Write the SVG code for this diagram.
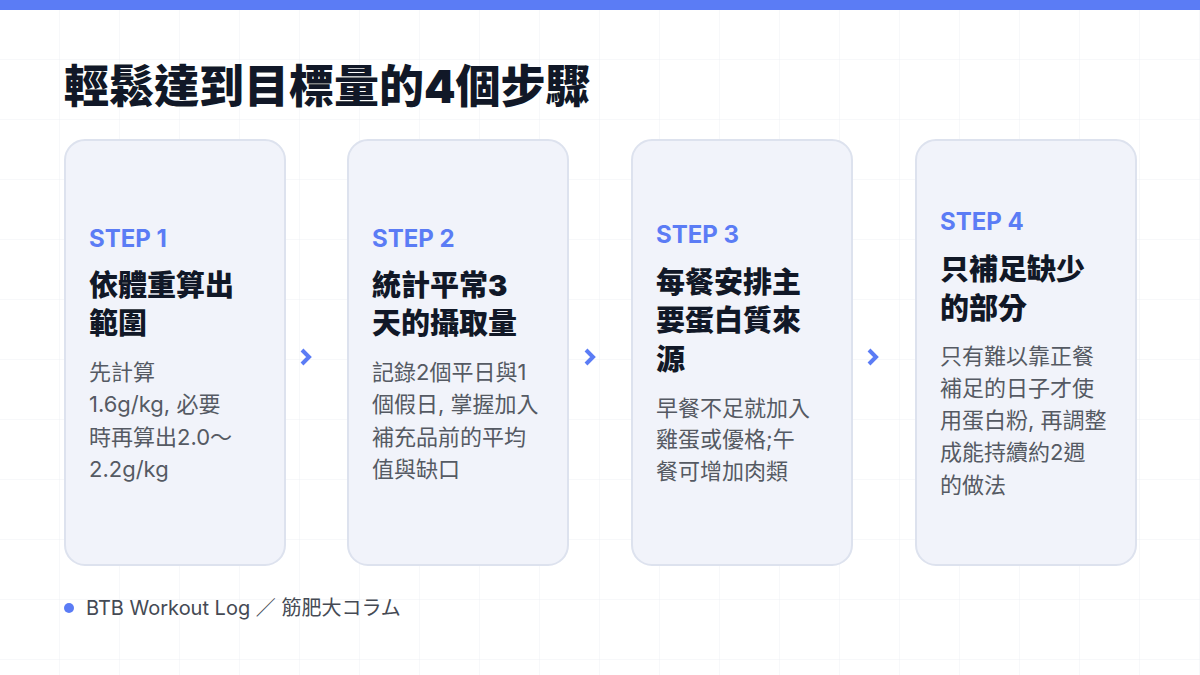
<svg xmlns="http://www.w3.org/2000/svg" width="1200" height="675" viewBox="0 0 1200 675">
<defs>
<pattern id="grid" width="60" height="60" patternUnits="userSpaceOnUse"><path d="M60 0V60M0 60H60" fill="none" stroke="#eef0f4" stroke-width="1"/></pattern>
<style>
text{font-family:"Inter","Noto Sans CJK TC",sans-serif}
.card{fill:#f1f3fa;stroke:#dde2ee;stroke-width:2}
.step{font-size:24px;font-weight:700;fill:#5b7cf5}
.ttl{font-size:29px;font-weight:900;fill:#111827}
.body{font-size:22px;fill:#555a63}
</style>
</defs>
<rect width="1200" height="675" fill="#fff"/>
<rect width="1200" height="675" fill="url(#grid)"/>
<rect width="1200" height="10" fill="#5b7cf5"/>
<text x="64" y="103" font-size="45" font-weight="900" fill="#111827">輕鬆達到目標量的4個步驟</text>
<g id="step1"><rect class="card" x="65" y="140" width="220" height="425" rx="20"/>
<text class="step" x="89" y="247">STEP 1</text>
<text class="ttl" x="89" y="296">依體重算出</text><text class="ttl" x="89" y="334">範圍</text>
<text class="body" x="89" y="380">先計算</text><text class="body" x="89" y="412">1.6g/kg, 必要</text><text class="body" x="89" y="445">時再算出2.0～</text><text class="body" x="89" y="477">2.2g/kg</text></g>
<g id="step2"><rect class="card" x="348" y="140" width="220" height="425" rx="20"/>
<text class="step" x="372" y="247">STEP 2</text>
<text class="ttl" x="372" y="296">統計平常3</text><text class="ttl" x="372" y="334">天的攝取量</text>
<text class="body" x="372" y="380">記錄2個平日與1</text><text class="body" x="372" y="412">個假日, 掌握加入</text><text class="body" x="372" y="445">補充品前的平均</text><text class="body" x="372" y="477">值與缺口</text></g>
<g id="step3"><rect class="card" x="632" y="140" width="220" height="425" rx="20"/>
<text class="step" x="656" y="243">STEP 3</text>
<text class="ttl" x="656" y="293">每餐安排主</text><text class="ttl" x="656" y="331">要蛋白質來</text><text class="ttl" x="656" y="370">源</text>
<text class="body" x="656" y="416">早餐不足就加入</text><text class="body" x="656" y="447">雞蛋或優格;午</text><text class="body" x="656" y="479">餐可增加肉類</text></g>
<g id="step4"><rect class="card" x="916" y="140" width="220" height="425" rx="20"/>
<text class="step" x="940" y="230">STEP 4</text>
<text class="ttl" x="940" y="280">只補足缺少</text><text class="ttl" x="940" y="319">的部分</text>
<text class="body" x="940" y="364">只有難以靠正餐</text><text class="body" x="940" y="396">補足的日子才使</text><text class="body" x="940" y="428">用蛋白粉, 再調整</text><text class="body" x="940" y="460">成能持續約2週</text><text class="body" x="940" y="493">的做法</text></g>
<g id="connectors">
<path d="M302 350l7 7-7 7" fill="none" stroke="#5b7cf5" stroke-width="4"/>
<path d="M586 350l7 7-7 7" fill="none" stroke="#5b7cf5" stroke-width="4"/>
<path d="M869 350l7 7-7 7" fill="none" stroke="#5b7cf5" stroke-width="4"/>
</g>
<circle cx="69" cy="608" r="5" fill="#5b7cf5"/>
<text x="86" y="615" font-size="20" fill="#454a54">BTB Workout Log ／ 筋肥大コラム</text>
</svg>
